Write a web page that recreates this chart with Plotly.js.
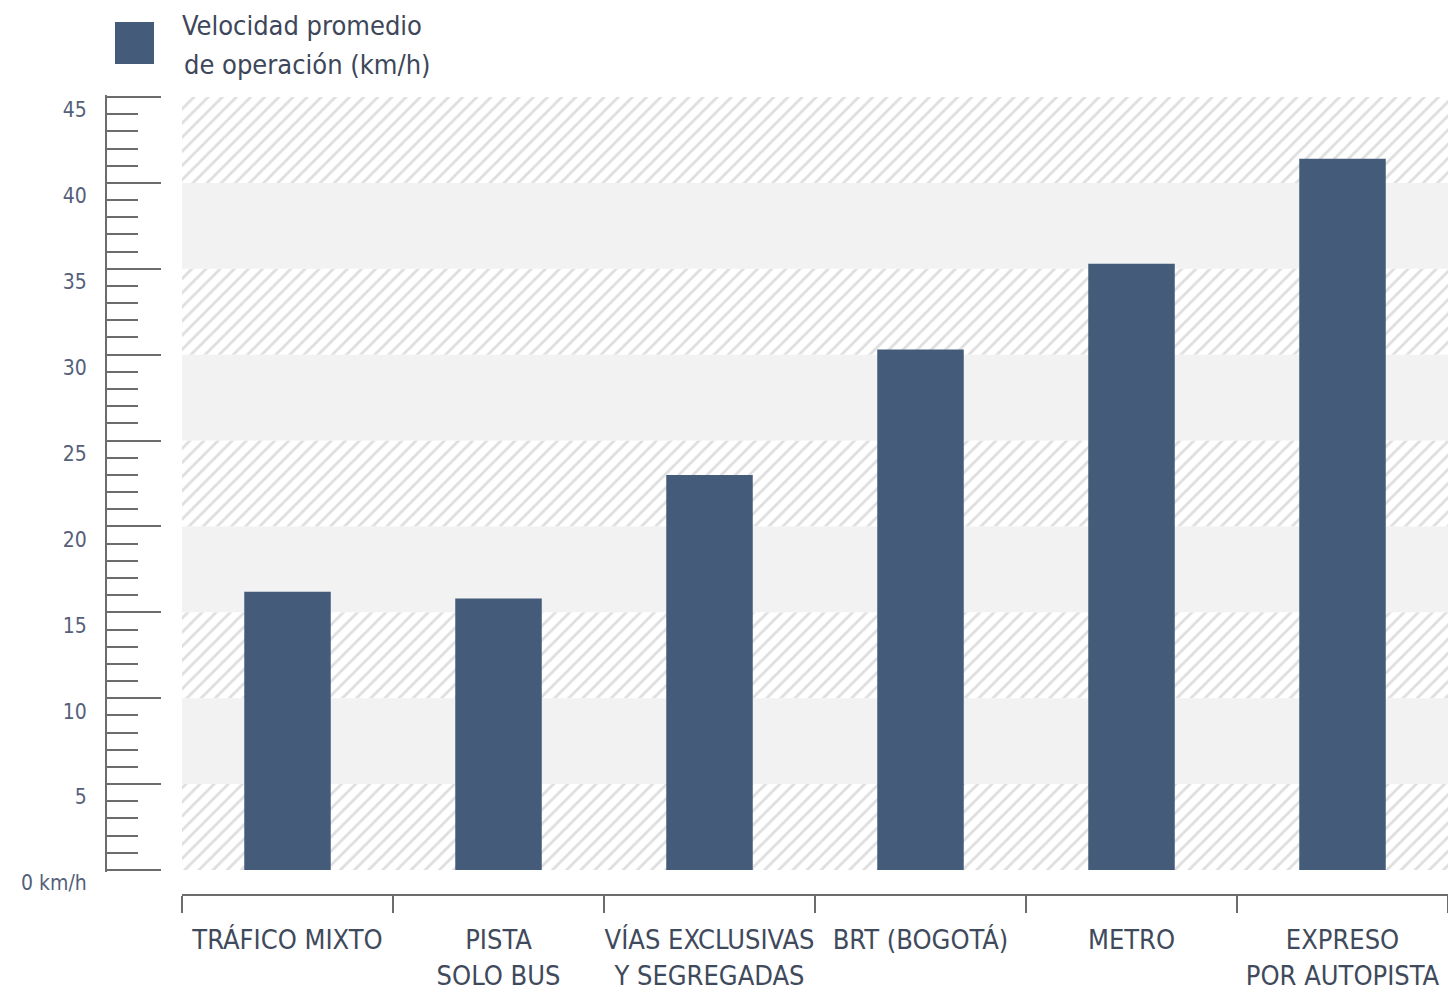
<!DOCTYPE html>
<html>
<head>
<meta charset="utf-8">
<script src="https://cdn.plot.ly/plotly-3.0.1.min.js"></script>
<style>
  html, body { margin: 0; padding: 0; background: #ffffff; }
  #chart { width: 1448px; height: 993px; }
</style>
</head>
<body>
<div id="chart"></div>
<script>
// Average operating speed by transport mode (km/h)
const categories = [
  'TRÁFICO MIXTO',
  'PISTA<br>SOLO BUS',
  'VÍAS EXCLUSIVAS<br>Y SEGREGADAS',
  'BRT (BOGOTÁ)',
  'METRO',
  'EXPRESO<br>POR AUTOPISTA'
];
const speeds = [16.2, 15.8, 23.0, 30.3, 35.3, 41.4];

// Y scale ticks
const yTickVals = [0, 5, 10, 15, 20, 25, 30, 35, 40, 45];
const yTickText = ['0 km/h', '5', '10', '15', '20', '25', '30', '35', '40', '45'];

// Background bands, 5 km/h each: hatched and plain light grey alternate
const hatchedBandStarts = [0, 10, 20, 30, 40];
const greyBandStarts = [5, 15, 25, 35];
const bandHeight = 5;

const legendLine1 = 'Velocidad promedio';
const legendLine2 = 'de operación (km/h)';

const FONT = '"DejaVu Sans Condensed", "Liberation Sans Narrow", "Arial Narrow", sans-serif';
const BAR = '#445b7a';
const AXIS = '#6c6c6c';
const W = 1448, H = 993;
const px = v => v / W;
const py = v => (H - v) / H;

// the y scale is padded by ~2px at both ends so the end ticks (0 and 45) are kept
const Y_PAD = 0.12;
const PX_PER_UNIT = (870 - 97) / 45;
const padPx = Y_PAD * PX_PER_UNIT;

const hatchedBands = {
  type: 'bar',
  x: hatchedBandStarts.map(() => 0.5),
  y: hatchedBandStarts.map(() => bandHeight),
  base: hatchedBandStarts,
  width: 1,
  xaxis: 'x',
  yaxis: 'y',
  marker: {
    color: '#ffffff',
    line: { width: 0 },
    pattern: {
      shape: '/',
      fillmode: 'overlay',
      fgcolor: '#bdbdbd',
      bgcolor: '#ffffff',
      size: 10,
      solidity: 0.28
    }
  },
  hoverinfo: 'skip',
  showlegend: false
};

const greyBands = {
  type: 'bar',
  x: greyBandStarts.map(() => 0.5),
  y: greyBandStarts.map(() => bandHeight),
  base: greyBandStarts,
  width: 1,
  xaxis: 'x',
  yaxis: 'y',
  marker: { color: '#f2f2f2', line: { width: 0 } },
  hoverinfo: 'skip',
  showlegend: false
};

const bars = {
  type: 'bar',
  x: categories,
  y: speeds,
  xaxis: 'x2',
  yaxis: 'y',
  name: legendLine1 + ' ' + legendLine2,
  marker: { color: BAR, line: { width: 0 } },
  hovertemplate: '%{y} km/h<extra></extra>',
  showlegend: false
};

const layout = {
  width: W,
  height: H,
  margin: { l: 0, r: 0, t: 0, b: 0 },
  paper_bgcolor: '#ffffff',
  plot_bgcolor: 'rgba(0,0,0,0)',
  bargap: 0.59,
  barmode: 'overlay',
  font: { family: FONT, color: '#3f4a5c' },
  xaxis: {
    domain: [px(182), 1],
    range: [0, 1],
    visible: false,
    fixedrange: true,
    anchor: 'y'
  },
  xaxis2: {
    overlaying: 'x',
    type: 'category',
    range: [-0.5, 5.5],
    anchor: 'free',
    position: py(895),
    showline: true,
    linecolor: AXIS,
    linewidth: 2,
    ticks: 'outside',
    tickson: 'boundaries',
    ticklen: 17,
    tickwidth: 2,
    tickcolor: AXIS,
    tickangle: 0,
    showgrid: false,
    zeroline: false,
    automargin: false,
    fixedrange: true,
    tickfont: { family: FONT, size: 27, color: '#3f4a5c' },
    ticklabelstandoff: 21
  },
  yaxis: {
    domain: [py(870 + padPx), py(97 - padPx)],
    range: [-Y_PAD, 45 + Y_PAD],
    anchor: 'free',
    position: px(106),
    showline: true,
    linecolor: AXIS,
    linewidth: 2,
    ticks: 'inside',
    ticklen: 54,
    tickwidth: 2,
    tickcolor: AXIS,
    tickvals: yTickVals,
    ticktext: yTickText,
    minor: { dtick: 1, ticks: 'inside', ticklen: 31, tickwidth: 2, tickcolor: AXIS },
    showgrid: false,
    zeroline: false,
    automargin: false,
    fixedrange: true,
    tickfont: { family: FONT, size: 21, color: '#55607a' },
    ticklabelshift: 13,
    ticklabelstandoff: 14
  },
  shapes: [
    {
      type: 'rect', xref: 'paper', yref: 'paper',
      x0: px(115), x1: px(154), y0: py(64), y1: py(22),
      fillcolor: BAR, line: { width: 0 }
    }
  ],
  annotations: [
    {
      xref: 'paper', yref: 'paper', x: px(180), y: py(26),
      xanchor: 'left', yanchor: 'middle', showarrow: false,
      text: legendLine1, font: { family: FONT, size: 27, color: '#3d4759' }
    },
    {
      xref: 'paper', yref: 'paper', x: px(182), y: py(65),
      xanchor: 'left', yanchor: 'middle', showarrow: false,
      text: legendLine2, font: { family: FONT, size: 27, color: '#3d4759' }
    }
  ]
};

Plotly.newPlot('chart', [hatchedBands, greyBands, bars], layout, { displayModeBar: false, staticPlot: true });
</script>
</body>
</html>
